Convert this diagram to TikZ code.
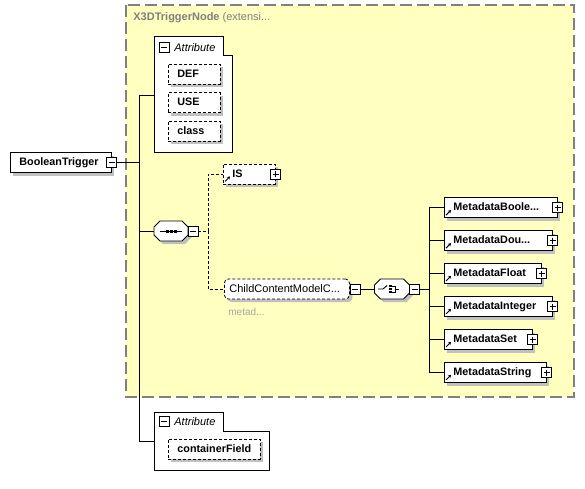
\documentclass[tikz,border=0pt]{standalone}
\usepackage{fontspec}
\setmainfont{Liberation Sans}
\usetikzlibrary{calc,arrows.meta,shadows}
\definecolor{c0}{RGB}{255,255,192}
\definecolor{c1}{RGB}{128,128,128}
\definecolor{c2}{RGB}{192,192,192}
\definecolor{c3}{RGB}{165,165,165}
\tikzset{%
  shadowed/.style={drop shadow={shadow xshift=3pt,shadow yshift=-3pt,fill=c2,opacity=1}},
  elem/.style={draw,fill=white,anchor=west,minimum height=20pt,inner xsep=9pt,inner ysep=0pt,
    text height=8pt,text depth=2pt,text width=#1,align=left,
    font=\bfseries\fontsize{10.8}{13}\selectfont,shadowed},
  opt/.style={elem=#1,dash pattern=on 3pt off 2pt},
  ccmbox/.style={opt=#1,rounded corners=4pt,inner xsep=5pt,font=\fontsize{11}{13}\selectfont},
  minusbox/.style={draw,fill=white,minimum size=10pt,inner sep=0pt,line width=0.8pt,
    path picture={\draw ([xshift=2pt]path picture bounding box.west) -- ([xshift=-2pt]path picture bounding box.east);}},
  plusbox/.style={draw,fill=white,minimum size=10pt,inner sep=0pt,line width=0.8pt,
    path picture={\draw ([xshift=2pt]path picture bounding box.west) -- ([xshift=-2pt]path picture bounding box.east);
      \draw ([yshift=-2pt]path picture bounding box.north) -- ([yshift=2pt]path picture bounding box.south);}},
  grpname/.style={anchor=west,inner sep=0pt,font=\itshape\fontsize{11}{13}\selectfont},
  optline/.style={dash pattern=on 3pt off 2pt}
}
\NewDocumentCommand\refmark{m}{%
  \draw[-{Stealth[length=3pt,width=3.5pt]},line width=0.9pt] ($(#1.south west)+(2,-3)$) -- ++(5,-5);
}
% compositor: name, centre, half width
\NewDocumentCommand\compo{mmm}{%
  \fill[c2,shift={(3,3)}] ($(#2)+(-#3,-4)$) -- ++(6,-6) -- ++(2*#3-12,0) -- ++(6,6) -- ++(0,8)
    -- ++(-6,6) -- ++(-2*#3+12,0) -- ++(-6,-6) -- cycle;
  \filldraw[fill=white] ($(#2)+(-#3,-4)$) -- ++(6,-6) -- ++(2*#3-12,0) -- ++(6,6) -- ++(0,8)
    -- ++(-6,6) -- ++(-2*#3+12,0) -- ++(-6,-6) -- cycle;
  \node[minimum width=2*#3,minimum height=20pt,inner sep=0pt] (#1) at (#2) {};
}

\begin{document}
\begin{tikzpicture}[x=1pt,y=-1pt,thick]
  \useasboundingbox (0,0) rectangle (585,488);
  %% extension frame
  \filldraw[fill=c0,draw=c1,line width=1.2pt,dash pattern=on 12pt off 5pt] (126,5) rectangle (574,397);
  \node[anchor=west,inner sep=0pt,text=c1,font=\fontsize{11}{13}\selectfont] (ext) at (133,18) {\textbf{X3DTriggerNode} (extensi...};
  %% root
  \node[elem=83] (bt) at (10,162.5) {BooleanTrigger};
  \node[minusbox] (btx) at (bt.east) {};
  %% attributes
  \filldraw[fill=white] (154,36) -- (223,36) -- (223,55) -- (232,55) -- (232,152) -- (154,152) -- cycle;
  \node[minusbox] (ag1x) at (164,47.5) {};
  \node[grpname] (ag1t) at (174,47.5) {Attribute};
  \node[opt=34] (def) at (168,74) {DEF};
  \node[opt=34] (use) at (168,102.5) {USE};
  \node[opt=34] (cls) at (168,131) {class};
  \coordinate (ag1) at (154,95);
  %%
  \filldraw[fill=white] (154,412) -- (223,412) -- (223,431) -- (269,431) -- (269,470) -- (154,470) -- cycle;
  \node[minusbox] (ag2x) at (164,421.5) {};
  \node[grpname] (ag2t) at (174,421.5) {Attribute};
  \node[opt=74] (cf) at (168,449) {containerField};
  \coordinate (ag2) at (154,441);
  %% sequence
  \compo{seq}{171,231}{17}
  \node[minusbox] (seqx) at (193,231) {};
  \begin{scope}[shift={(seq.center)}]
    \draw[line width=0.9pt] (-11,0) -- (11,0);
    \fill (-5.5,-1.5) rectangle (-2.5,1.5);
    \fill (-1.5,-1.5) rectangle (1.5,1.5);
    \fill (2.5,-1.5) rectangle (5.5,1.5);
  \end{scope}
  \node[opt=34] (is) at (223,174) {IS};
  \node[plusbox] (isx) at (is.east) {};
  \refmark{is}
  \node[ccmbox=115] (ccm) at (224,289) {ChildContentModelC...};
  \node[minusbox] (ccmx) at (355,289) {};
  \node[anchor=west,inner sep=0pt,text=c3,font=\fontsize{10}{12}\selectfont] (ccmn) at (228,312) {metad...};
  %% choice
  \compo{ch}{392,289}{17.5}
  \node[minusbox] (chx) at (414.5,289) {};
  \begin{scope}[shift={(ch.center)}]
    \draw[line width=0.9pt] (-14,0) -- (-9,0) -- (-5,-3.5);
    \fill (-3,-4.3) rectangle (0,-1.7);
    \fill (-3,-1.3) rectangle (0,1.3);
    \fill (-3,1.7) rectangle (0,4.3);
    \draw[line width=0.9pt] (0,-3) -- (3.5,-3) -- (3.5,3) -- (0,3);
    \draw[line width=0.9pt] (3.5,0) -- (7,0);
  \end{scope}
  %% metadata
  \node[elem=95] (m1) at (444,207.7) {MetadataBoole...};
  \node[elem=90] (m2) at (444,240.7) {MetadataDou...};
  \node[elem=79] (m3) at (444,273.5) {MetadataFloat};
  \node[elem=90] (m4) at (444,306.5) {MetadataInteger};
  \node[elem=70] (m5) at (444,339.5) {MetadataSet};
  \node[elem=84] (m6) at (444,372.5) {MetadataString};
  \node[plusbox] (m1x) at (m1.east) {};
  \node[plusbox] (m2x) at (m2.east) {};
  \node[plusbox] (m3x) at (m3.east) {};
  \node[plusbox] (m4x) at (m4.east) {};
  \node[plusbox] (m5x) at (m5.east) {};
  \node[plusbox] (m6x) at (m6.east) {};
  \refmark{m1}
  \refmark{m2}
  \refmark{m3}
  \refmark{m4}
  \refmark{m5}
  \refmark{m6}
  %% connectors
  \coordinate (j1) at (139,162.5);
  \draw (btx.east) -- (j1);
  \draw (j1) |- (ag1);
  \draw (j1) |- (seq.west);
  \draw (j1) |- (ag2);
  \coordinate (j2) at (208,231);
  \draw[optline] (seqx.east) -- (j2);
  \draw[optline] (j2) |- (is.west);
  \draw[optline] (j2) |- (ccm.west);
  \draw (ccmx.east) -- (ch.west);
  \coordinate (j3) at (429,289);
  \draw (chx.east) -- (j3);
  \draw (j3) |- (m1.west);
  \draw (j3) |- (m2.west);
  \draw (j3) |- (m3.west);
  \draw (j3) |- (m4.west);
  \draw (j3) |- (m5.west);
  \draw (j3) |- (m6.west);
\end{tikzpicture}
\end{document}
